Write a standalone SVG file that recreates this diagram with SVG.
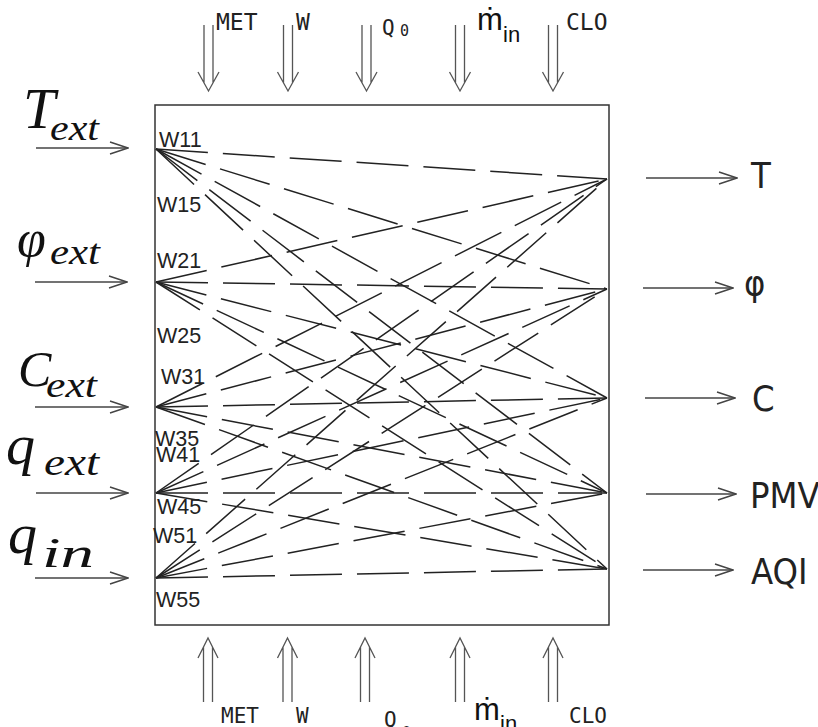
<svg xmlns="http://www.w3.org/2000/svg" width="818" height="727" viewBox="0 0 818 727">
  <defs>
    <style>
      .box { fill: none; stroke: #333; stroke-width: 1.5; }
      .wire { fill: none; stroke: #222; stroke-width: 1.5; stroke-dasharray: 52 15; }
      .arr { fill: none; stroke: #444; stroke-width: 1.4; }
      .dbl { fill: none; stroke: #555; stroke-width: 1.3; }
      .math { font-family: "Liberation Serif", "DejaVu Serif", serif; font-style: italic; fill: #111; }
      .wlab { font-family: "Liberation Sans", Arial, sans-serif; font-size: 21.5px; fill: #222; }
      .out { font-family: "DejaVu Sans Condensed", "DejaVu Sans", sans-serif; font-stretch: condensed; font-size: 36px; fill: #222; }
      .par { font-family: "DejaVu Sans Mono", "Liberation Mono", monospace; fill: #222; }
      .mdot { font-family: "Liberation Sans", Arial, sans-serif; fill: #111; }
    </style>
    <marker id="open" viewBox="0 0 20 14" refX="19" refY="7" markerWidth="20" markerHeight="14" markerUnits="userSpaceOnUse" orient="auto">
      <path d="M1,1 L19,7 L1,13" fill="none" stroke="#444" stroke-width="1.4"/>
    </marker>
    <!-- downward double arrow, origin at the top centre -->
    <path id="dbl-down" class="dbl" d="M-4.5,0 V58 M4.5,0 V58 M-10.5,47 L0,66 L10.5,47"/>
    <!-- upward double arrow, origin at the tip -->
    <path id="dbl-up" class="dbl" d="M-10,20 L0,0 L10,20 M-4.5,9 V64 M4.5,9 V64"/>
  </defs>

  <rect width="818" height="727" fill="#fff"/>

  <!-- network block -->
  <g id="block">
    <rect class="box" x="155" y="105" width="454" height="520"/>
  </g>

  <!-- weighted links between input and output neurons -->
  <g id="connectors">
    <line class="wire" x1="156" y1="149" x2="607" y2="179"/>
    <line class="wire" x1="156" y1="149" x2="607" y2="289"/>
    <line class="wire" x1="156" y1="149" x2="607" y2="398"/>
    <line class="wire" x1="156" y1="149" x2="607" y2="493"/>
    <line class="wire" x1="156" y1="149" x2="607" y2="569"/>

    <line class="wire" x1="156" y1="282" x2="607" y2="179"/>
    <line class="wire" x1="156" y1="282" x2="607" y2="289"/>
    <line class="wire" x1="156" y1="282" x2="607" y2="398"/>
    <line class="wire" x1="156" y1="282" x2="607" y2="493"/>
    <line class="wire" x1="156" y1="282" x2="607" y2="569"/>

    <line class="wire" x1="156" y1="407" x2="607" y2="179"/>
    <line class="wire" x1="156" y1="407" x2="607" y2="289"/>
    <line class="wire" x1="156" y1="407" x2="607" y2="398"/>
    <line class="wire" x1="156" y1="407" x2="607" y2="493"/>
    <line class="wire" x1="156" y1="407" x2="607" y2="569"/>

    <line class="wire" x1="156" y1="493" x2="607" y2="179"/>
    <line class="wire" x1="156" y1="493" x2="607" y2="289"/>
    <line class="wire" x1="156" y1="493" x2="607" y2="398"/>
    <line class="wire" x1="156" y1="493" x2="607" y2="493"/>
    <line class="wire" x1="156" y1="493" x2="607" y2="569"/>

    <line class="wire" x1="156" y1="578" x2="607" y2="179"/>
    <line class="wire" x1="156" y1="578" x2="607" y2="289"/>
    <line class="wire" x1="156" y1="578" x2="607" y2="398"/>
    <line class="wire" x1="156" y1="578" x2="607" y2="493"/>
    <line class="wire" x1="156" y1="578" x2="607" y2="569"/>
  </g>

  <!-- weight labels -->
  <g id="weights" class="wlab">
    <text x="159" y="147">W11</text>
    <text x="157" y="212">W15</text>
    <text x="157" y="268">W21</text>
    <text x="157" y="343">W25</text>
    <text x="161" y="384">W31</text>
    <text x="155" y="446">W35</text>
    <text x="156" y="462">W41</text>
    <text x="157" y="514">W45</text>
    <text x="153" y="543">W51</text>
    <text x="156" y="607">W55</text>
  </g>

  <!-- inputs -->
  <g id="in-T">
    <text class="math" x="23" y="128" font-size="58">T</text>
    <text class="math" x="50" y="140" font-size="36" textLength="49" lengthAdjust="spacingAndGlyphs">ext</text>
    <line class="arr" x1="36" y1="148" x2="128" y2="148" marker-end="url(#open)"/>
  </g>
  <g id="in-phi">
    <text class="math" x="17" y="256" font-size="52">φ</text>
    <text class="math" x="50" y="264" font-size="36" textLength="50" lengthAdjust="spacingAndGlyphs">ext</text>
    <line class="arr" x1="35" y1="282" x2="127" y2="282" marker-end="url(#open)"/>
  </g>
  <g id="in-C">
    <text class="math" x="18" y="386" font-size="50">C</text>
    <text class="math" x="46" y="397" font-size="36" textLength="51" lengthAdjust="spacingAndGlyphs">ext</text>
    <line class="arr" x1="35" y1="407" x2="128" y2="407" marker-end="url(#open)"/>
  </g>
  <g id="in-qext">
    <text class="math" x="6" y="464" font-size="58">q</text>
    <text class="math" x="44" y="475" font-size="37" textLength="55" lengthAdjust="spacingAndGlyphs">ext</text>
    <line class="arr" x1="36" y1="493" x2="128" y2="493" marker-end="url(#open)"/>
  </g>
  <g id="in-qin">
    <text class="math" x="8" y="553" font-size="58">q</text>
    <text class="math" x="42" y="567" font-size="42" textLength="52" lengthAdjust="spacingAndGlyphs">in</text>
    <line class="arr" x1="35" y1="578" x2="128" y2="578" marker-end="url(#open)"/>
  </g>

  <!-- outputs -->
  <g id="out-T">
    <line class="arr" x1="646" y1="178" x2="737" y2="178" marker-end="url(#open)"/>
    <text class="out" x="751" y="188">T</text>
  </g>
  <g id="out-phi">
    <line class="arr" x1="643" y1="288" x2="733" y2="288" marker-end="url(#open)"/>
    <text class="out" x="744" y="296">φ</text>
  </g>
  <g id="out-C">
    <line class="arr" x1="645" y1="398" x2="735" y2="398" marker-end="url(#open)"/>
    <text class="out" x="752" y="411">C</text>
  </g>
  <g id="out-PMV">
    <line class="arr" x1="646" y1="494" x2="736" y2="494" marker-end="url(#open)"/>
    <text class="out" x="750" y="508">PMV</text>
  </g>
  <g id="out-AQI">
    <line class="arr" x1="643" y1="570" x2="733" y2="570" marker-end="url(#open)"/>
    <text class="out" x="751" y="584">AQI</text>
  </g>

  <!-- parameters entering from above -->
  <g id="top-params">
    <use href="#dbl-down" x="208.5" y="25"/>
    <use href="#dbl-down" x="288" y="25"/>
    <use href="#dbl-down" x="366.5" y="25"/>
    <use href="#dbl-down" x="460" y="25"/>
    <use href="#dbl-down" x="553" y="25"/>
    <text class="par" x="216" y="30" font-size="23">MET</text>
    <text class="par" x="296" y="30" font-size="23">W</text>
    <text class="par" x="382" y="35" font-size="21">Q</text>
    <text class="par" x="400" y="36" font-size="15">0</text>
    <text class="mdot" x="477" y="30" font-size="31">ṁ</text>
    <text class="mdot" x="503" y="42" font-size="22">in</text>
    <text class="par" x="566" y="30" font-size="23">CLO</text>
  </g>

  <!-- parameters entering from below -->
  <g id="bottom-params">
    <use href="#dbl-up" x="208" y="638"/>
    <use href="#dbl-up" x="287.5" y="638"/>
    <use href="#dbl-up" x="365" y="638"/>
    <use href="#dbl-up" x="460" y="638"/>
    <use href="#dbl-up" x="553" y="638"/>
    <text class="par" x="221" y="723" font-size="21">MET</text>
    <text class="par" x="296" y="723" font-size="21">W</text>
    <text class="par" x="384" y="727" font-size="21">Q</text>
    <text class="par" x="402" y="738" font-size="15">0</text>
    <text class="mdot" x="474" y="720" font-size="31">ṁ</text>
    <text class="mdot" x="500" y="731" font-size="22">in</text>
    <text class="par" x="569" y="723" font-size="21">CLO</text>
  </g>
</svg>
